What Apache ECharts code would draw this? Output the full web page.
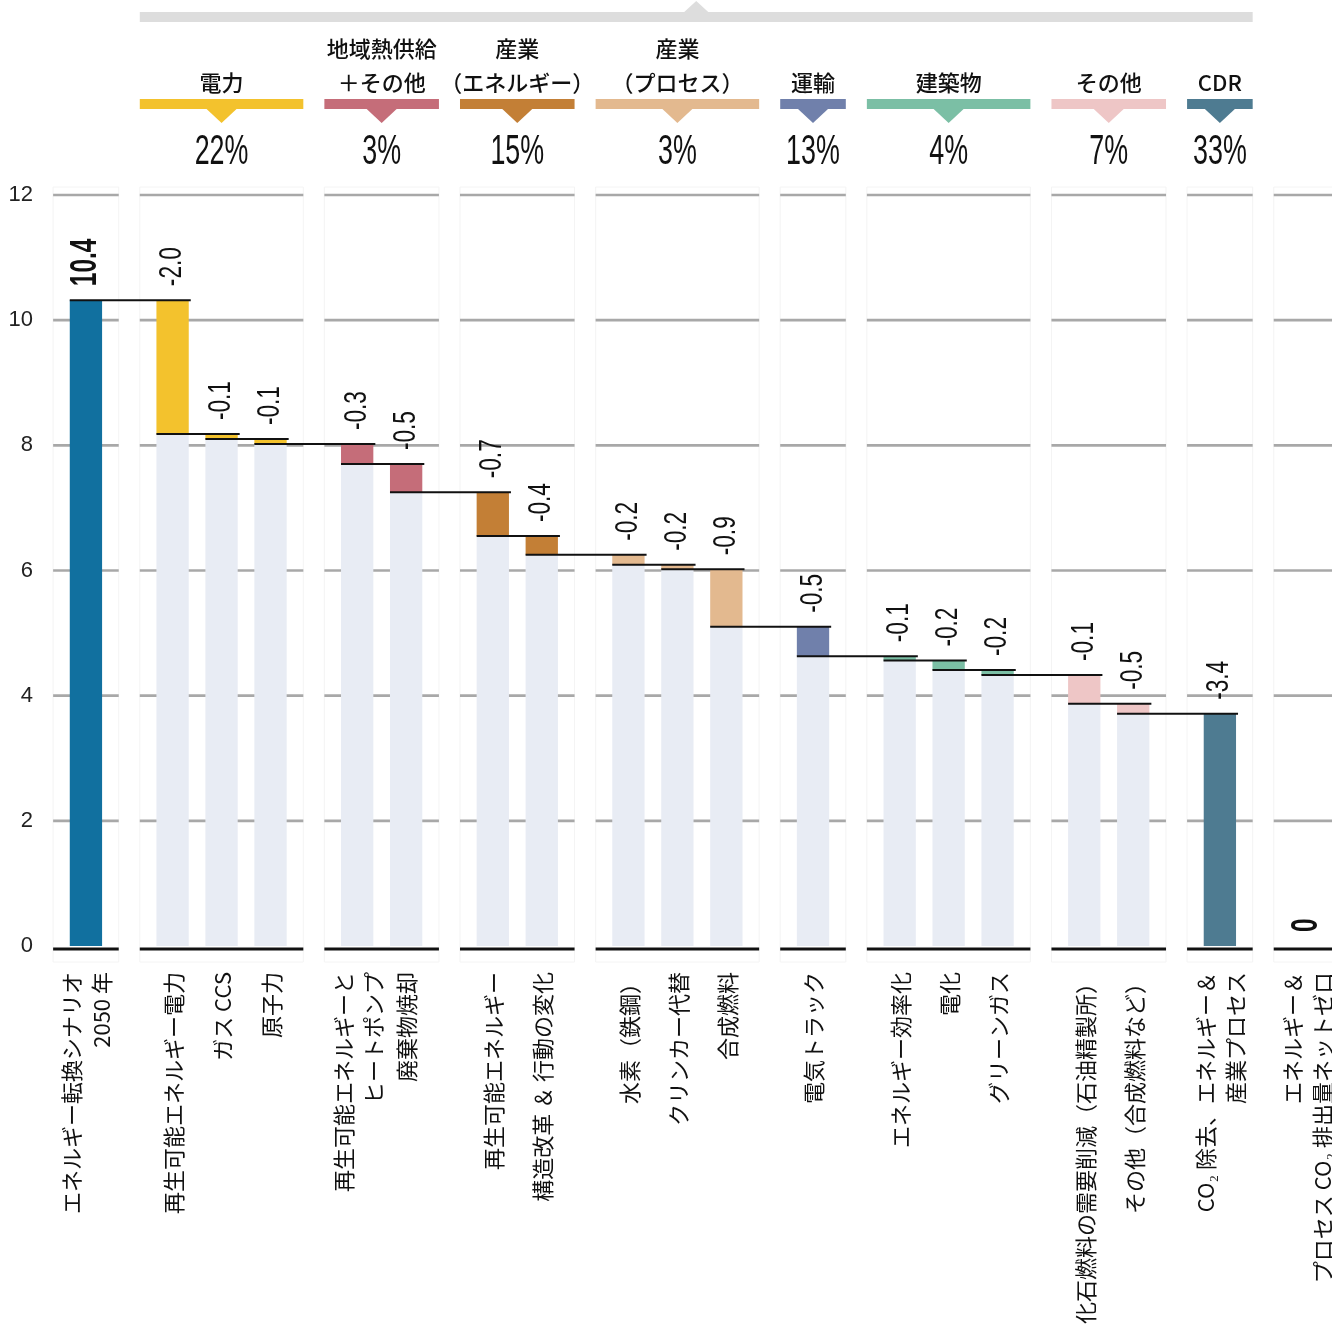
<!DOCTYPE html>
<html><head><meta charset="utf-8">
<script src="https://cdn.jsdelivr.net/npm/echarts@6.0.0/dist/echarts.min.js"></script>
<style>html,body{margin:0;padding:0;background:#fff}#c{width:1332px;height:1331px}</style>
</head><body><div id="c"></div>
<script>
// ---------------- data ----------------
const groupTitles = ['', '電力', '地域熱供給\n＋その他', '産業\n（エネルギー）', '産業\n（プロセス）', '運輸', '建築物', 'その他', 'CDR', ''];
const groupShares = ['', '22%', '3%', '15%', '3%', '13%', '4%', '7%', '33%', ''];
const groupColors = ['#11709f', '#f3c22d', '#c56d79', '#c37f36', '#e3b98f', '#7080ab', '#7bbfa5', '#eec6c6', '#4e7b91', '#4e7b91'];
const categories = [
  'エネルギー転換シナリオ\n2050 年',
  '再生可能エネルギー電力', 'ガス CCS', '原子力',
  '再生可能エネルギーと\nヒートポンプ', '廃棄物焼却',
  '再生可能エネルギー', '構造改革 ＆ 行動の変化',
  '水素（鉄鋼）', 'クリンカー代替', '合成燃料',
  '電気トラック',
  'エネルギー効率化', '電化', 'グリーンガス',
  '化石燃料の需要削減（石油精製所）', 'その他（合成燃料など）',
  'CO₂ 除去、エネルギー＆\n産業プロセス',
  'エネルギー＆\nプロセス CO₂ 排出量ネットゼロ'
];
const categoryGroup = [0, 1, 1, 1, 2, 2, 3, 3, 4, 4, 4, 5, 6, 6, 6, 7, 7, 8, 9];
const valueLabels = ['10.4', '-2.0', '-0.1', '-0.1', '-0.3', '-0.5', '-0.7', '-0.4', '-0.2', '-0.2', '-0.9', '-0.5', '-0.1', '-0.2', '-0.2', '-0.1', '-0.5', '-3.4', '0'];
// cumulative level reached after each bar, as drawn in the picture
const levelAfter = [10.32, 8.18, 8.10, 8.02, 7.70, 7.25, 6.55, 6.25, 6.09, 6.02, 5.10, 4.63, 4.56, 4.41, 4.33, 3.87, 3.71, 0, 0];
const yTicks = [0, 2, 4, 6, 8, 10, 12];

// ---------------- layout helpers ----------------
const WITHIN = 1, BETWEEN = 1.77, BAR_W = 0.66, PAD = 0.67;
const PALE = '#e8ecf4', INK = '#111111';
const xPos = [];
(function () {
  let p = 0;
  categoryGroup.forEach((g, i) => {
    if (i > 0) p += (g === categoryGroup[i - 1]) ? WITHIN : BETWEEN;
    xPos.push(p);
  });
})();
const groupIds = groupTitles.map((_, g) => g);
function groupExtent(g) {
  const xs = xPos.filter((_, i) => categoryGroup[i] === g);
  return [Math.min(...xs) - PAD, Math.max(...xs) + PAD];
}

function renderPanel(params, api) {
  const g = params.dataIndex;
  const ext = groupExtent(g);
  const L = api.coord([ext[0], 0])[0], R = api.coord([ext[1], 0])[0];
  const y0 = api.coord([0, 0])[1], yTop = api.coord([0, 12])[1];
  const cx = (L + R) / 2;
  const ch = [];
  ch.push({type: 'rect', shape: {x: L, y: yTop - 8, width: R - L, height: y0 + 16 - (yTop - 8)}, style: {fill: 'none', stroke: '#f4f4f4', lineWidth: 1}});
  yTicks.forEach(t => {
    if (t === 0) return;
    const y = api.coord([0, t])[1];
    ch.push({type: 'line', shape: {x1: L, y1: y, x2: R, y2: y}, style: {stroke: '#a8a8a8', lineWidth: 2.6}});
  });
  ch.push({type: 'line', shape: {x1: L, y1: y0 + 3, x2: R, y2: y0 + 3}, style: {stroke: INK, lineWidth: 3}});
  if (groupTitles[g]) {
    const col = groupColors[g];
    ch.push({type: 'rect', shape: {x: L, y: yTop - 96, width: R - L, height: 10}, style: {fill: col}});
    ch.push({type: 'polygon', shape: {points: [[cx - 15, yTop - 86], [cx + 15, yTop - 86], [cx, yTop - 72]]}, style: {fill: col}});
    ch.push({type: 'text', x: cx, y: yTop - 95, style: {text: groupTitles[g], align: 'center', verticalAlign: 'bottom', font: '500 22px "Noto Sans CJK JP"', lineHeight: 34, fill: INK}});
    ch.push({type: 'text', x: cx, y: yTop - 43, scaleX: 0.64, style: {text: groupShares[g], align: 'center', verticalAlign: 'middle', font: '42px "Liberation Sans"', fill: INK}});
  }
  if (g === 1) {
    const e8 = groupExtent(8);
    const R8 = api.coord([e8[1], 0])[0];
    const mid = (L + R8) / 2, t = yTop - 183, b = yTop - 173;
    ch.push({type: 'polygon', shape: {points: [[L, t], [mid - 12, t], [mid, yTop - 194], [mid + 12, t], [R8, t], [R8, b], [L, b]]}, style: {fill: '#dddddd'}});
  }
  return {type: 'group', children: ch};
}

function barGeom(i, api) {
  const top = i === 0 ? levelAfter[0] : levelAfter[i - 1];
  const bottom = i === 0 ? 0 : levelAfter[i];
  const bw = api.size([BAR_W, 0])[0];
  const p0 = api.coord([xPos[i], 0]);
  return {top, bottom, bw, cx: p0[0], y0: p0[1], yTop: api.coord([xPos[i], top])[1], yBot: api.coord([xPos[i], bottom])[1]};
}

function renderBar(params, api) {
  const i = params.dataIndex;
  const b = barGeom(i, api);
  const ch = [];
  if (b.bottom > 0) ch.push({type: 'rect', shape: {x: b.cx - b.bw / 2, y: b.yBot, width: b.bw, height: b.y0 - b.yBot}, style: {fill: PALE}});
  if (b.top > b.bottom) ch.push({type: 'rect', shape: {x: b.cx - b.bw / 2, y: b.yTop, width: b.bw, height: b.yBot - b.yTop}, style: {fill: groupColors[categoryGroup[i]]}});
  return {type: 'group', children: ch};
}

function renderOverlay(params, api) {
  const i = params.dataIndex;
  const b = barGeom(i, api);
  const ch = [];
  if (i < levelAfter.length - 1 && levelAfter[i] > 0) {
    const nx = api.coord([xPos[i + 1], 0])[0];
    const ly = api.coord([xPos[i], levelAfter[i]])[1];
    ch.push({type: 'line', shape: {x1: b.cx - b.bw / 2, y1: ly, x2: nx + b.bw / 2 + 2, y2: ly}, style: {stroke: INK, lineWidth: 2}});
  }
  const bold = (i === 0 || i === valueLabels.length - 1);
  ch.push({type: 'text', x: b.cx, y: b.yTop - 14, rotation: Math.PI / 2, scaleX: bold ? 0.66 : 0.73,
    style: {text: valueLabels[i], align: 'left', verticalAlign: 'middle', font: bold ? 'bold 37px "Liberation Sans"' : '31px "Liberation Sans"', fill: INK}});
  ch.push({type: 'text', x: b.cx + 1, y: b.y0 + 26, rotation: Math.PI / 2,
    style: {text: categories[i], align: 'right', verticalAlign: 'middle', font: '22px "Noto Sans CJK JP"', lineHeight: 30, fill: INK}});
  return {type: 'group', children: ch};
}

const chart = echarts.init(document.getElementById('c'), null, {renderer: 'canvas'});
chart.setOption({
  animation: false,
  backgroundColor: '#ffffff',
  grid: {left: 59, right: 0, top: 195, bottom: 385},
  xAxis: {type: 'value', min: -0.55, max: 25.45, show: false},
  yAxis: {type: 'value', min: 0, max: 12, interval: 2,
    axisLine: {show: false}, axisTick: {show: false}, splitLine: {show: false},
    axisLabel: {fontSize: 22, color: '#222', margin: 26, fontFamily: 'Liberation Sans'}},
  series: [
    {type: 'custom', silent: true, clip: false, z: 1, renderItem: renderPanel,
      data: groupIds.map(g => [groupExtent(g)[0], 0])},
    {type: 'custom', silent: true, clip: false, z: 2, renderItem: renderBar,
      data: xPos.map((x, i) => [x, levelAfter[i]])},
    {type: 'custom', silent: true, clip: false, z: 3, renderItem: renderOverlay,
      data: xPos.map((x, i) => [x, levelAfter[i]])}
  ]
});
</script></body></html>
